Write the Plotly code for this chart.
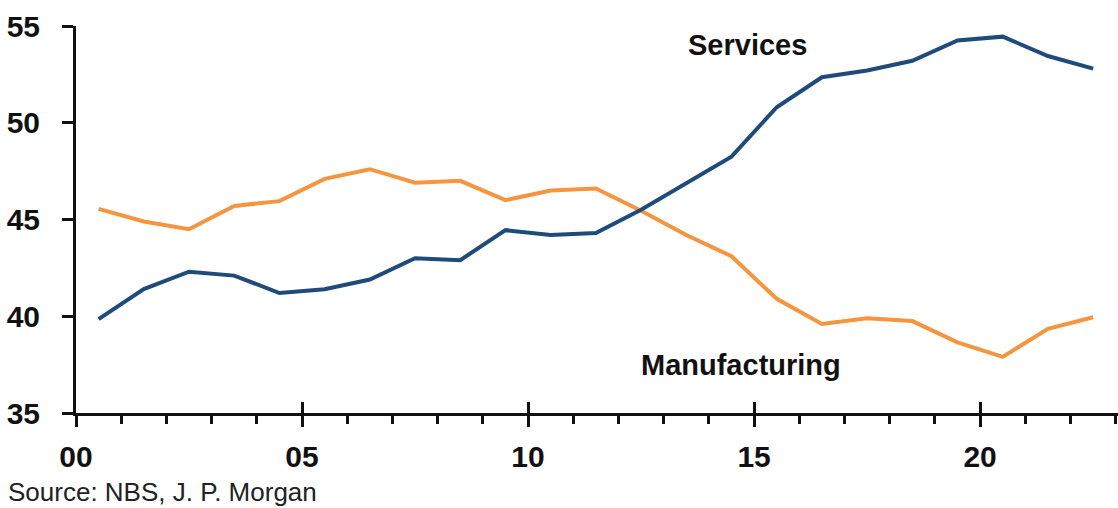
import plotly.graph_objects as go

years = [0.5, 1.5, 2.5, 3.5, 4.5, 5.5, 6.5, 7.5, 8.5, 9.5, 10.5, 11.5,
         12.5, 13.5, 14.5, 15.5, 16.5, 17.5, 18.5, 19.5, 20.5, 21.5, 22.5]
services = [39.85, 41.4, 42.3, 42.1, 41.2, 41.4, 41.9, 43.0, 42.9, 44.45, 44.2, 44.3,
            45.5, 46.9, 48.25, 50.8, 52.35, 52.7, 53.2, 54.25, 54.45, 53.45, 52.8]
manufacturing = [45.55, 44.9, 44.5, 45.7, 45.95, 47.1, 47.6, 46.9, 47.0, 46.0, 46.5, 46.6,
                 45.45, 44.2, 43.1, 40.9, 39.6, 39.9, 39.75, 38.65, 37.9, 39.35, 39.95]
xtick_vals = [0, 5, 10, 15, 20]
xtick_text = ["00", "05", "10", "15", "20"]
ytick_vals = [35, 40, 45, 50, 55]

FONT = "Liberation Sans, Arial, sans-serif"
AX = "#111111"

fig = go.Figure()
fig.add_trace(go.Scatter(x=years, y=manufacturing, mode="lines",
                         line=dict(color="#F5953F", width=4), name="Manufacturing"))
fig.add_trace(go.Scatter(x=years, y=services, mode="lines",
                         line=dict(color="#1E4B7A", width=4), name="Services"))
# invisible trace bound to overlay axis (draws the inside half of the major ticks)
fig.add_trace(go.Scatter(x=[0, 23], y=[35, 35], xaxis="x2", yaxis="y",
                         mode="lines", line=dict(width=0, color="rgba(0,0,0,0)"),
                         showlegend=False, hoverinfo="skip"))

fig.update_layout(
    width=1118, height=508,
    margin=dict(l=76, r=0, t=26, b=95),
    paper_bgcolor="white", plot_bgcolor="white",
    showlegend=False,
    font=dict(family=FONT, color=AX),
    xaxis=dict(
        range=[0, 23.05], tickvals=xtick_vals, ticktext=xtick_text,
        showgrid=False, zeroline=False, showline=True, linecolor=AX, linewidth=3,
        ticks="outside", ticklen=11, tickwidth=3, tickcolor=AX,
        ticklabelstandoff=4,
        tickfont=dict(family=FONT, size=30, color=AX, weight="bold"),
        minor=dict(dtick=1, tick0=0, ticks="outside", ticklen=8, tickwidth=2.5,
                   tickcolor=AX, showgrid=False),
    ),
    xaxis2=dict(
        range=[0, 23.05], overlaying="x", anchor="y", side="bottom",
        tickvals=xtick_vals, showticklabels=False, showgrid=False, zeroline=False,
        showline=False, ticks="inside", ticklen=11, tickwidth=3, tickcolor=AX,
    ),
    yaxis=dict(
        range=[35, 55], tickvals=ytick_vals,
        showgrid=False, zeroline=False, showline=True, linecolor=AX, linewidth=3,
        ticks="outside", ticklen=11, tickwidth=3, tickcolor=AX,
        ticklabelstandoff=16,
        tickfont=dict(family=FONT, size=30, color=AX, weight="bold"),
    ),
    annotations=[
        dict(text="<b>Services</b>", x=14.85, y=54.0, xref="x", yref="y",
             showarrow=False, font=dict(family=FONT, size=29, color=AX)),
        dict(text="<b>Manufacturing</b>", x=14.7, y=37.5, xref="x", yref="y",
             showarrow=False, font=dict(family=FONT, size=29, color=AX)),
        dict(text="Source: NBS, J. P. Morgan", x=-0.067, y=-0.205, xref="paper", yref="paper",
             xanchor="left", yanchor="middle", showarrow=False,
             font=dict(family=FONT, size=26, color="#222222")),
    ],
)

fig.write_html("out.html")
